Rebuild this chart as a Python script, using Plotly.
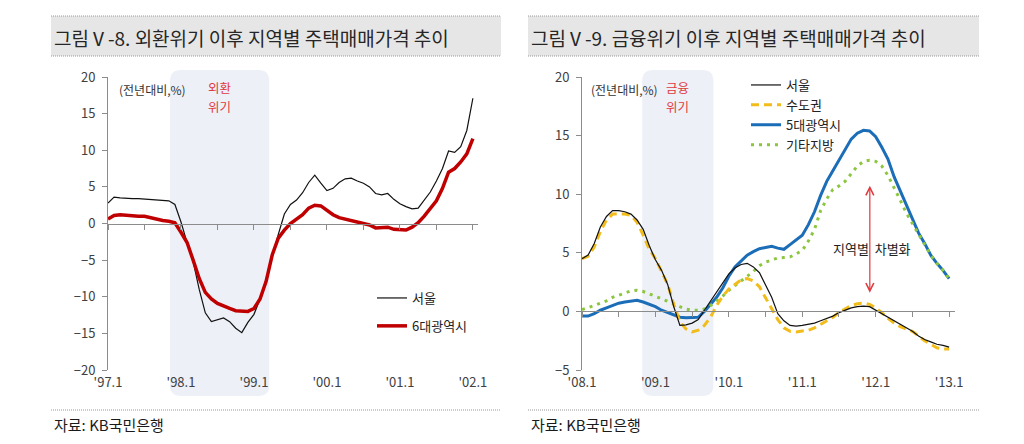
import plotly.graph_objects as go

W, H = 1024, 444
FONT = "Noto Sans CJK KR, Noto Sans, sans-serif"

# ---------------- data (monthly, % YoY) ----------------
left_start = (1997, 1)
seoul_9702 = [2.8, 3.6, 3.5, 3.4, 3.4, 3.4, 3.35, 3.3, 3.25, 3.2, 3.1, 2.6,
              0.2, -2.6, -5.2, -9.0, -12.2, -13.4, -13.2, -12.9, -13.4, -14.3, -14.9, -13.5,
              -12.4, -10.3, -7.6, -4.5, -1.5, 1.3, 2.6, 3.2, 4.2, 5.6, 6.6, 5.5,
              4.5, 4.8, 5.6, 6.1, 6.2, 5.8, 5.5, 5.0, 4.1, 3.9, 4.1, 3.3,
              2.7, 2.3, 2.0, 2.1, 3.2, 4.3, 5.8, 7.5, 9.9, 9.7, 10.5, 12.7,
              17.1]
metro6_9702 = [0.6, 1.1, 1.2, 1.1, 1.1, 1.0, 1.0, 0.8, 0.5, 0.4, 0.3, 0.1,
               -1.2, -2.6, -5.0, -7.5, -9.4, -10.3, -10.9, -11.3, -11.6, -11.9, -12.0, -12.0,
               -11.6, -10.3, -7.9, -4.3, -2.0, -0.9, 0.0, 0.6, 1.2, 2.1, 2.5, 2.4,
               1.8, 1.2, 0.8, 0.6, 0.4, 0.2, 0.0, -0.2, -0.6, -0.6, -0.5, -0.8,
               -0.9, -0.9, -0.5, 0.1, 1.0, 2.0, 3.1, 4.8, 7.0, 7.5, 8.4, 9.5,
               11.6]
left_tickvals = [1997, 1998, 1999, 2000, 2001, 2002]
left_ticktext = ["'97.1", "'98.1", "'99.1", "'00.1", "'01.1", "'02.1"]
left_crisis = (1997.85, 1999.21)

right_start = (2008, 1)
seoul_0813 = [4.5, 4.8, 5.8, 7.2, 8.1, 8.6, 8.6, 8.5, 8.3, 7.8, 7.0, 5.6,
              4.4, 3.5, 2.3, 0.4, -1.2, -1.15, -1.0, -0.7, 0.1, 0.9, 1.7, 2.5,
              3.2, 3.7, 4.0, 4.1, 3.8, 3.3, 2.2, 1.2, -0.2, -0.8, -1.2, -1.25,
              -1.2, -1.1, -1.0, -0.8, -0.6, -0.4, -0.1, 0.1, 0.3, 0.4, 0.45, 0.4,
              0.1, -0.2, -0.5, -0.8, -1.1, -1.4, -1.7, -2.1, -2.4, -2.6, -2.8, -2.9,
              -3.05]
capital_0813 = [4.5, 4.7, 5.5, 6.8, 7.8, 8.3, 8.3, 8.3, 8.2, 7.6, 6.5, 5.3,
                4.5, 3.4, 2.3, 0.6, -0.9, -1.5, -1.75, -1.6, -1.2, -0.5, 0.5, 1.3,
                1.9, 2.3, 2.7, 2.8, 2.6, 2.1, 1.2, 0.3, -0.7, -1.4, -1.7, -1.75,
                -1.7, -1.6, -1.4, -1.1, -0.8, -0.5, -0.1, 0.2, 0.5, 0.65, 0.7, 0.6,
                0.3, -0.1, -0.6, -1.0, -1.3, -1.5, -1.7, -2.1, -2.5, -2.8, -3.1, -3.2,
                -3.2]
metro5_0813 = [-0.4, -0.4, -0.2, 0.1, 0.3, 0.5, 0.7, 0.8, 0.9, 0.95, 0.8, 0.6,
               0.4, 0.1, -0.1, -0.35, -0.5, -0.55, -0.55, -0.5, 0.0, 0.6, 1.2, 2.0,
               3.0, 3.8, 4.3, 4.8, 5.1, 5.35, 5.45, 5.55, 5.4, 5.3, 5.7, 6.1,
               6.5, 7.4, 8.5, 9.9, 11.1, 12.0, 12.9, 13.8, 14.7, 15.2, 15.45, 15.4,
               14.9, 14.0, 13.0, 11.5, 10.3, 9.2, 8.0, 6.7, 5.8, 4.8, 4.1, 3.5,
               2.8]
other_0813 = [0.15, 0.3, 0.5, 0.7, 0.9, 1.2, 1.4, 1.6, 1.75, 1.8, 1.7, 1.5,
              1.3, 1.1, 0.9, 0.65, 0.4, 0.2, 0.1, 0.1, 0.2, 0.5, 0.9, 1.3,
              1.8, 2.2, 2.6, 3.0, 3.4, 3.9, 4.2, 4.4, 4.55, 4.6, 4.65, 4.9,
              5.2, 6.0, 7.0, 8.6, 9.6, 10.4, 10.7, 11.1, 11.8, 12.4, 12.8, 12.9,
              12.8, 12.4, 11.6, 10.6, 9.5, 8.4, 7.5, 6.6, 5.8, 4.8, 4.1, 3.5,
              2.8]
right_tickvals = [2008, 2009, 2010, 2011, 2012, 2013]
right_ticktext = ["'08.1", "'09.1", "'10.1", "'11.1", "'12.1", "'13.1"]
right_crisis = (2008.82, 2009.79)
gap_arrow = (2011.92, 1.6, 10.85)   # x, lower end, upper end


def months(start, n):
    y, m = start
    return [y + (m - 1 + i) / 12 for i in range(n)]


xl = months(left_start, len(seoul_9702))
xr = months(right_start, len(seoul_0813))

# ---------------- geometry helpers ----------------
def fx(p):
    return p / W


def fy(p):
    return 1 - p / H


ydom = [fy(370), fy(77)]
lrange = [-20, 20]
rrange = [-5, 20]
zero_left = ydom[0] + (0 - lrange[0]) / (lrange[1] - lrange[0]) * (ydom[1] - ydom[0])
zero_right = ydom[0] + (0 - rrange[0]) / (rrange[1] - rrange[0]) * (ydom[1] - ydom[0])

AX = "#8c8c8c"
TICKFONT = dict(family=FONT, size=13, color="#404040")

fig = go.Figure()

# left chart
fig.add_trace(go.Scatter(x=xl, y=seoul_9702, name="서울", mode="lines",
                         line=dict(color="#111111", width=1.2),
                         xaxis="x", yaxis="y", legend="legend", legendgroup="a"))
fig.add_trace(go.Scatter(x=xl, y=metro6_9702, name="6대광역시", mode="lines",
                         line=dict(color="#c00000", width=3.5),
                         xaxis="x3", yaxis="y", legend="legend", legendgroup="b"))

# right chart (draw order: blue, green, yellow, black)
fig.add_trace(go.Scatter(x=xr, y=metro5_0813, name="5대광역시", mode="lines",
                         line=dict(color="#1b6db8", width=3),
                         xaxis="x2", yaxis="y2", legend="legend2", legendrank=3))
fig.add_trace(go.Scatter(x=xr, y=other_0813, name="기타지방", mode="lines",
                         line=dict(color="#8cc63f", width=3, dash="3px,5px"),
                         xaxis="x2", yaxis="y2", legend="legend2", legendrank=4))
fig.add_trace(go.Scatter(x=xr, y=capital_0813, name="수도권", mode="lines",
                         line=dict(color="#f2bc1b", width=3, dash="8px,5px"),
                         xaxis="x4", yaxis="y2", legend="legend2", legendrank=2))
fig.add_trace(go.Scatter(x=xr, y=seoul_0813, name="서울", mode="lines",
                         line=dict(color="#111111", width=1.2),
                         xaxis="x4", yaxis="y2", legend="legend2", legendrank=1))

lxr = [1997, 2002.07]
rxr = [2008, 2013.08]
ldom = [fx(108), fx(478)]
rdom = [fx(582), fx(955)]

base_x = dict(showline=False, ticks="", showgrid=False, zeroline=False,
              tickfont=TICKFONT, fixedrange=True, automargin=False,
              ticklabelstandoff=3)
zero_x = dict(showline=True, linecolor=AX, linewidth=1, ticks="outside", ticklen=5,
              tickcolor=AX, tickwidth=1, dtick=0.5, showticklabels=False,
              showgrid=False, zeroline=False, anchor="free", automargin=False)
base_y = dict(domain=ydom, showline=True, linecolor=AX, linewidth=1, ticks="outside",
              ticklen=5, tickcolor=AX, dtick=5, showgrid=False, zeroline=False,
              tickfont=TICKFONT, ticklabelstandoff=4, automargin=False)

fig.update_layout(
    width=W, height=H,
    margin=dict(l=0, r=0, t=0, b=0, pad=0, autoexpand=False),
    paper_bgcolor="white", plot_bgcolor="rgba(0,0,0,0)",
    font=dict(family=FONT, size=13, color="#222222"),
    xaxis=dict(domain=ldom, range=lxr, anchor="y", tickvals=left_tickvals,
               ticktext=left_ticktext, **base_x),
    xaxis3=dict(overlaying="x", range=lxr, position=zero_left, tick0=1997, **zero_x),
    yaxis=dict(range=lrange, anchor="x", **base_y),
    xaxis2=dict(domain=rdom, range=rxr, anchor="y2", tickvals=right_tickvals,
                ticktext=right_ticktext, **base_x),
    xaxis4=dict(overlaying="x2", range=rxr, position=zero_right, tick0=2008, **zero_x),
    yaxis2=dict(range=rrange, anchor="x2", **base_y),
    legend=dict(x=fx(372), y=fy(283), xanchor="left", yanchor="top",
                bgcolor="rgba(0,0,0,0)", font=dict(family=FONT, size=13, color="#222"),
                itemwidth=30, tracegroupgap=8, traceorder="grouped"),
    legend2=dict(x=fx(746), y=fy(70), xanchor="left", yanchor="top",
                 bgcolor="rgba(0,0,0,0)", font=dict(family=FONT, size=13, color="#222"),
                 itemwidth=30, tracegroupgap=0),
    showlegend=True,
)


def rounded(x0, x1, y0, y1, rx, ry):
    return (f"M{x0 + rx},{y1} L{x1 - rx},{y1} Q{x1},{y1} {x1},{y1 - ry} "
            f"L{x1},{y0 + ry} Q{x1},{y0} {x1 - rx},{y0} L{x0 + rx},{y0} "
            f"Q{x0},{y0} {x0},{y0 + ry} L{x0},{y1 - ry} Q{x0},{y1} {x0 + rx},{y1} Z")


shade_top, shade_bot = fy(70), fy(396)
ry = 11 / H
for xref, (c0, c1) in (("x", left_crisis), ("x2", right_crisis)):
    rx = 11 / 73.2
    fig.add_shape(type="path", xref=xref, yref="paper", layer="below",
                  path=rounded(c0, c1, shade_bot, shade_top, rx, ry),
                  fillcolor="#edf0f7", line=dict(width=0))

# title bands and source separators
for x0, x1 in ((51, 501), (528, 979)):
    fig.add_shape(type="rect", xref="paper", yref="paper", x0=fx(x0), x1=fx(x1),
                  y0=fy(56), y1=fy(16), fillcolor="#e6e6e6", line=dict(width=0),
                  layer="below")
    for yy in (16, 56, 410):
        fig.add_shape(type="line", xref="paper", yref="paper", x0=fx(x0), x1=fx(x1),
                      y0=fy(yy), y1=fy(yy),
                      line=dict(color="#9a9a9a", width=1, dash="1px,1px"))

ann = []
for x0, t in ((52, "그림Ⅴ-8. 외환위기 이후 지역별 주택매매가격 추이"),
              (529, "그림Ⅴ-9. 금융위기 이후 지역별 주택매매가격 추이")):
    ann.append(dict(x=fx(x0), y=fy(37), xref="paper", yref="paper", text=t,
                    showarrow=False, xanchor="left", yanchor="middle",
                    font=dict(family=FONT, size=19, color="#262626")))
for x0 in (52, 529):
    ann.append(dict(x=fx(x0), y=fy(424), xref="paper", yref="paper", text="자료: KB국민은행",
                    showarrow=False, xanchor="left", yanchor="middle",
                    font=dict(family=FONT, size=15, color="#1a1a1a")))
for x0 in (117, 589):
    ann.append(dict(x=fx(x0), y=fy(89), xref="paper", yref="paper", text="(전년대비,%)",
                    showarrow=False, xanchor="left", yanchor="middle",
                    font=dict(family=FONT, size=12, color="#333")))
for xref, (c0, c1), (t1, t2) in (("x", left_crisis, ("외환", "위기")),
                                 ("x2", right_crisis, ("금융", "위기"))):
    for yy, t in ((88, t1), (106, t2)):
        ann.append(dict(x=(c0 + c1) / 2, y=fy(yy), xref=xref, yref="paper", text=t,
                        showarrow=False, xanchor="center", yanchor="middle",
                        font=dict(family=FONT, size=12.5, color="#e0393e")))

gx, glo, ghi = gap_arrow
ann.append(dict(x=gx, y=glo, ax=gx, ay=ghi, xref="x2", yref="y2", axref="x2", ayref="y2",
                text="", showarrow=True, arrowhead=5, startarrowhead=5,
                arrowside="end+start", arrowwidth=1.2, arrowsize=1.3, startarrowsize=1.3,
                arrowcolor="#e0393e", standoff=0, startstandoff=0))
ann.append(dict(x=gx + 0.03, y=(glo + ghi) / 2 - 0.9, xref="x2", yref="y2",
                text="지역별  차별화", showarrow=False, xanchor="center", yanchor="middle",
                font=dict(family=FONT, size=13, color="#222")))
fig.update_layout(annotations=ann)

fig.write_html("out.html", config={"displayModeBar": False},
               post_script="document.body.style.margin='0px';")
